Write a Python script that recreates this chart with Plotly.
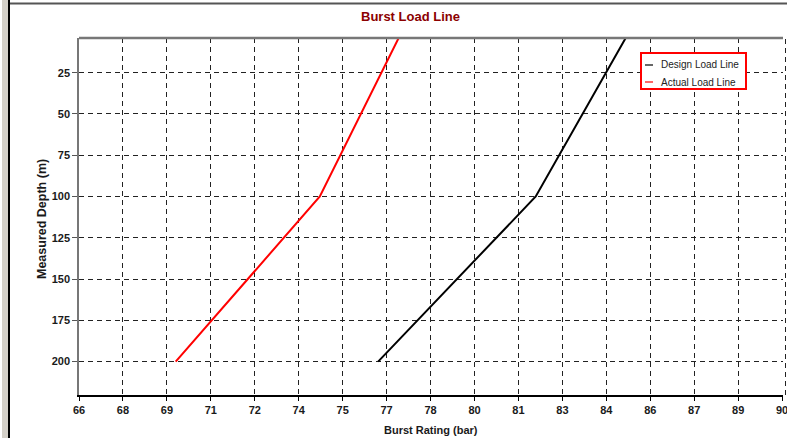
import plotly.graph_objects as go

# Burst load lines: burst rating (bar) versus measured depth (m)
design_depth = [4, 100, 200]
design_rating = [84.66, 81.59, 76.21]

actual_depth = [4, 100, 200]
actual_rating = [76.91, 74.22, 69.30]

x_tickvals = [66, 67.5, 69, 70.5, 72, 73.5, 75, 76.5, 78, 79.5, 81, 82.5, 84, 85.5, 87, 88.5, 90]
x_ticktext = ["66", "68", "69", "71", "72", "74", "75", "77", "78", "80", "81", "83", "84", "86", "87", "89", "90"]
y_tickvals = [25, 50, 75, 100, 125, 150, 175, 200]
y_ticktext = ["25", "50", "75", "100", "125", "150", "175", "200"]

W, H = 787, 438
L, R, T, B = 79, 783, 38, 395


def px(x):
    return (x - L) / (R - L)


def py(y):
    return 1 - (y - T) / (B - T)


FONT = "Liberation Sans, Arial, sans-serif"

fig = go.Figure()
fig.add_trace(go.Scatter(x=design_rating, y=design_depth, mode="lines",
                         line=dict(color="#000000", width=2), name="Design Load Line"))
fig.add_trace(go.Scatter(x=actual_rating, y=actual_depth, mode="lines",
                         line=dict(color="#ff0000", width=2), name="Actual Load Line"))

axis_font = dict(family=FONT, size=11, color="#1a1a1a")

fig.update_layout(
    width=W, height=H,
    margin=dict(l=L, r=W - R, t=T, b=H - B, pad=0, autoexpand=False),
    paper_bgcolor="white", plot_bgcolor="white",
    showlegend=False,
    xaxis=dict(range=[66, 90.03], tickvals=x_tickvals,
               ticktext=[f"<b>{t}</b>" for t in x_ticktext],
               tickfont=axis_font, ticks="outside", ticklen=4, tickcolor="#000",
               ticklabeloverflow="allow", automargin=False,
               showline=True, linecolor="#000", linewidth=1.5,
               showgrid=True, gridcolor="#222", gridwidth=1, griddash="5px,4px",
               zeroline=False, fixedrange=True),
    yaxis=dict(range=[220.2, 4], tickvals=y_tickvals,
               ticktext=[f"<b>{t}</b>" for t in y_ticktext],
               tickfont=axis_font, ticks="outside", ticklen=5, tickcolor="#555",
               automargin=False,
               showline=True, linecolor="#777", linewidth=1.5,
               showgrid=True, gridcolor="#222", gridwidth=1, griddash="5px,4px",
               zeroline=False, fixedrange=True),
)

shapes = [
    # window frame at the left and top
    dict(type="rect", xref="paper", yref="paper", x0=px(2), x1=px(8), y0=py(H), y1=py(0),
         fillcolor="#d4d0c8", line=dict(width=0), layer="above"),
    dict(type="line", xref="paper", yref="paper", x0=px(9), x1=px(9), y0=py(H), y1=py(0),
         line=dict(color="#000", width=2)),
    dict(type="line", xref="paper", yref="paper", x0=px(10), x1=px(W), y0=py(3.5), y1=py(3.5),
         line=dict(color="#555", width=2)),
    # top edge of plot area
    dict(type="line", xref="paper", yref="paper", x0=0, x1=1, y0=1, y1=1,
         line=dict(color="#777", width=2.5)),
    # right edge of plot area
    dict(type="line", xref="paper", yref="paper", x0=px(785.5), x1=px(785.5), y0=0, y1=1,
         line=dict(color="#222", width=1, dash="5px,4px")),
    # legend box
    dict(type="rect", xref="paper", yref="paper", x0=px(641), x1=px(746), y0=py(89), y1=py(53),
         fillcolor="white", line=dict(color="#ff0000", width=2), layer="above"),
    dict(type="line", xref="paper", yref="paper", x0=px(645), x1=px(653), y0=py(65), y1=py(65),
         line=dict(color="#000", width=1.2), layer="above"),
    dict(type="line", xref="paper", yref="paper", x0=px(645), x1=px(653), y0=py(82), y1=py(82),
         line=dict(color="#ff0000", width=1.2), layer="above"),
]
fig.update_layout(shapes=shapes)

annotations = [
    dict(text="<b>Burst Load Line</b>", xref="paper", yref="paper", x=px(410), y=py(16),
         xanchor="center", yanchor="middle", showarrow=False,
         font=dict(family=FONT, size=13, color="#8b0000")),
    dict(text="<b>Burst Rating (bar)</b>", xref="paper", yref="paper", x=px(431), y=py(430),
         xanchor="center", yanchor="middle", showarrow=False,
         font=dict(family=FONT, size=11, color="#1a1a1a")),
    dict(text="<b>Measured Depth (m)</b>", xref="paper", yref="paper", x=px(42), y=py(219),
         xanchor="center", yanchor="middle", showarrow=False, textangle=-90,
         font=dict(family=FONT, size=12.5, color="#1a1a1a")),
    dict(text="Design Load Line", xref="paper", yref="paper", x=px(659), y=py(65),
         xanchor="left", yanchor="middle", showarrow=False,
         font=dict(family=FONT, size=10, color="#222")),
    dict(text="Actual Load Line", xref="paper", yref="paper", x=px(659), y=py(82),
         xanchor="left", yanchor="middle", showarrow=False,
         font=dict(family=FONT, size=10, color="#222")),
]
fig.update_layout(annotations=annotations)

fig.write_html("out.html")
